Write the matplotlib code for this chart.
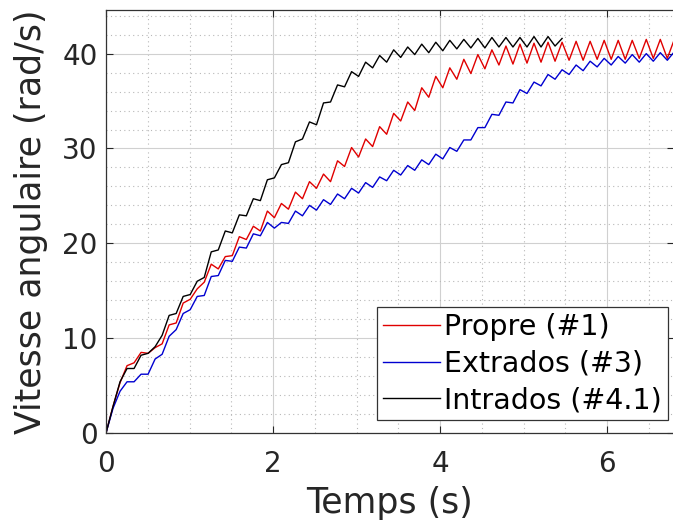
import numpy as np
import matplotlib
matplotlib.use("Agg")
import matplotlib.pyplot as plt
from matplotlib.ticker import MultipleLocator

# sampling step of the logged signals (s)
dt = 0.084

# Vitesse angulaire (rad/s)
propre = [0, 2.8, 5.3, 7.1, 7.4, 8.5, 8.4, 9.0, 9.4, 11.4, 11.6, 13.7, 14.1, 15.2, 15.9,
          17.8, 17.3, 18.6, 18.7, 20.7, 20.4, 21.8, 21.3, 23.4, 22.7, 24.2, 23.6, 25.4,
          24.7, 26.5, 25.8, 27.3, 26.5, 28.7, 28.1, 30.1, 29.1, 31.0, 30.2, 32.3, 31.5,
          33.7, 32.9, 34.9, 34.0, 36.4, 35.4, 37.6, 36.4, 38.5, 37.3, 39.4, 37.9, 39.9,
          38.4, 40.4, 38.8, 40.8, 38.9, 41.0, 39.0, 41.1, 39.1, 41.2, 39.2, 41.2, 39.3,
          41.3, 39.3, 41.3, 39.4, 41.4, 39.4, 41.4, 39.4, 41.4, 39.5, 41.5, 39.5, 41.5,
          39.5, 41.5]

extrados = [0, 2.6, 4.4, 5.4, 5.4, 6.2, 6.2, 7.8, 8.3, 10.2, 10.9, 12.6, 13.0, 14.4, 14.5,
            16.5, 16.6, 18.2, 18.1, 19.6, 19.5, 21.0, 20.8, 22.2, 21.6, 22.2, 22.1, 23.4,
            22.9, 24.0, 23.5, 24.6, 24.1, 25.2, 24.7, 25.8, 25.3, 26.4, 25.9, 27.0, 26.6,
            27.7, 27.2, 28.2, 27.7, 28.8, 28.3, 29.4, 28.9, 30.1, 29.7, 30.9, 30.9, 32.2,
            32.2, 33.6, 33.5, 34.9, 34.8, 36.2, 35.8, 37.0, 36.6, 37.8, 37.3, 38.3, 37.8,
            38.8, 38.2, 39.2, 38.6, 39.5, 38.8, 39.7, 39.0, 39.9, 39.1, 40.0, 39.2, 40.1,
            39.3, 40.2]

intrados = [0, 2.8, 5.4, 6.8, 6.8, 8.2, 8.4, 9.1, 10.3, 12.4, 12.6, 14.4, 14.6, 16.0, 16.4,
            19.1, 19.3, 21.3, 21.1, 23.0, 22.9, 24.7, 24.5, 26.7, 26.9, 28.3, 28.5, 30.7,
            31.0, 32.8, 32.5, 34.8, 34.9, 36.7, 36.5, 38.1, 37.6, 39.1, 38.5, 39.8, 39.1,
            40.4, 39.6, 40.7, 39.9, 41.0, 40.1, 41.2, 40.3, 41.4, 40.5, 41.5, 40.6, 41.6,
            40.6, 41.7, 40.7, 41.7, 40.7, 41.7, 40.7, 41.8, 40.7, 41.8, 40.8, 41.6]

series = [
    ("Propre (#1)", propre, "#e00000"),
    ("Extrados (#3)", extrados, "#0000d0"),
    ("Intrados (#4.1)", intrados, "#000000"),
]

fig = plt.figure(figsize=(6.73, 5.26), dpi=100)
ax = fig.add_axes([106 / 673, 1 - 433 / 526, 568 / 673, 423 / 526])

for label, vals, color in series:
    t = np.arange(len(vals)) * dt
    ax.plot(t, vals, color=color, lw=1.0, label=label)

ax.set_xlim(0, 6.8)
ax.set_ylim(0, 44.6)
ax.xaxis.set_major_locator(MultipleLocator(2))
ax.xaxis.set_minor_locator(MultipleLocator(0.5))
ax.yaxis.set_major_locator(MultipleLocator(10))
ax.yaxis.set_minor_locator(MultipleLocator(2))

ax.grid(which="major", color="#d0d0d0", lw=0.8, ls="-")
ax.grid(which="minor", color="#b8b8b8", lw=0.8, ls=(0, (1, 3)))
ax.set_axisbelow(True)

for s in ax.spines.values():
    s.set_color("#333333")
    s.set_linewidth(0.9)
ax.tick_params(which="both", direction="in", top=True, right=True, colors="#262626",
               labelsize=20)
ax.tick_params(which="major", length=5)
ax.tick_params(which="minor", length=0)
ax.tick_params(axis="y", pad=6)
ax.tick_params(axis="x", pad=12)

ax.set_xlabel("Temps (s)", fontsize=25, color="#262626", labelpad=6)
ax.set_ylabel("Vitesse angulaire (rad/s)", fontsize=25, color="#262626", labelpad=10)

leg = ax.legend(loc="lower right", bbox_to_anchor=(0.989, 0.031), fontsize=20.5,
                fancybox=False, framealpha=1, edgecolor="#333333", handlelength=2.0,
                handletextpad=0.15, labelspacing=0.3, borderpad=0.2, borderaxespad=0)
leg.get_frame().set_linewidth(0.9)

fig.savefig("out.png", dpi=100)
